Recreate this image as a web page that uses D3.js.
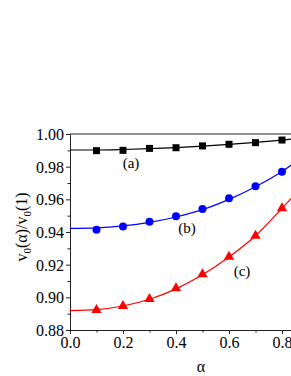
<!DOCTYPE html>
<html>
<head>
<meta charset="utf-8">
<script src="https://cdn.jsdelivr.net/npm/d3@7"></script>
<style>
  body { margin: 0; background: #fff; }
  svg { display: block; }
</style>
</head>
<body>
<svg id="chart" width="291" height="376"></svg>
<script>
// measured points
let alpha = [0.1, 0.2, 0.3, 0.4, 0.5, 0.6, 0.7, 0.8]
let seriesA = [0.9898, 0.9900, 0.9912, 0.9916, 0.9927, 0.9937, 0.9947, 0.9963]
let seriesB = [0.9414, 0.9433, 0.9463, 0.9497, 0.9541, 0.9606, 0.9680, 0.9769]
let seriesC = [0.8923, 0.8947, 0.8990, 0.9056, 0.9141, 0.9249, 0.9377, 0.9545]

// fitted curves
let fitAlpha = [0, 0.1, 0.2, 0.3, 0.4, 0.5, 0.6, 0.7, 0.8, 0.84]
let fitA = [0.9902, 0.9902, 0.9905, 0.9910, 0.9917, 0.9926, 0.9937, 0.9949, 0.9963, 0.9969]
let fitB = [0.9422, 0.9425, 0.9437, 0.9459, 0.9492, 0.9537, 0.9600, 0.9677, 0.9770, 0.9816]
let fitC = [0.8919, 0.8925, 0.8947, 0.8988, 0.9052, 0.9138, 0.9247, 0.9377, 0.9545, 0.9615]

let xTicks = [0, 0.2, 0.4, 0.6, 0.8]
let yTicks = [0.88, 0.90, 0.92, 0.94, 0.96, 0.98, 1.00]
let curveLabels = ["(a)", "(b)", "(c)"]

let serif = "'Liberation Serif', 'Times New Roman', Times, 'DejaVu Serif', serif"

let svg = d3.select("#chart")
let plotLeft = 70, plotTop = 134, plotBottom = 330

let xScale = d3.scaleLinear().domain([0, 0.84]).range([plotLeft, plotLeft + 0.84 * 265])
let yScale = d3.scaleLinear().domain([0.88, 1.00]).range([plotBottom, plotTop])

// axes
let xAxis = d3.axisBottom(xScale).tickValues(xTicks).tickFormat(d3.format(".1f")).tickSize(4).tickSizeOuter(0)
let xMinor = d3.axisBottom(xScale).tickValues([0.1, 0.3, 0.5, 0.7]).tickFormat("").tickSize(2.5).tickSizeOuter(0)
let yAxis = d3.axisLeft(yScale).tickValues(yTicks).tickFormat(d3.format(".2f")).tickSize(4).tickSizeOuter(0)
let yMinor = d3.axisLeft(yScale).tickValues([0.89, 0.91, 0.93, 0.95, 0.97, 0.99]).tickFormat("").tickSize(2.5).tickSizeOuter(0)

function styleAxis(g) {
  g.attr("font-family", serif)
  g.select(".domain").attr("stroke", "#222").attr("stroke-width", 1)
  g.selectAll(".tick line").attr("stroke", "#222")
  g.selectAll(".tick text").style("font-size", "16px").style("font-family", serif).attr("fill", "#000")
}

svg.append("g").attr("transform", `translate(0,${plotBottom})`).call(xMinor).call(styleAxis)
svg.append("g").attr("transform", `translate(0,${plotBottom})`).call(xAxis).call(styleAxis)
svg.append("g").attr("transform", `translate(${plotLeft},0)`).call(yMinor).call(styleAxis)
svg.append("g").attr("transform", `translate(${plotLeft},0)`).call(yAxis).call(styleAxis)
  .selectAll(".tick text").attr("x", -6).attr("dy", "0.35em")

// top frame line
svg.append("line")
  .attr("x1", plotLeft).attr("x2", 291)
  .attr("y1", yScale(1.00)).attr("y2", yScale(1.00))
  .attr("stroke", "#222").attr("stroke-width", 1)

let line = d3.line()
  .x((d, i) => xScale(fitAlpha[i]))
  .y(d => yScale(d))
  .curve(d3.curveMonotoneX)

let colors = ["#000000", "#0000ff", "#ff0000"]
let fits = [fitA, fitB, fitC]
fits.forEach((f, k) => {
  svg.append("path").attr("d", line(f))
    .attr("fill", "none").attr("stroke", colors[k]).attr("stroke-width", 1.2)
})

// markers
svg.selectAll("rect.ptA").data(seriesA).enter().append("rect")
  .attr("class", "ptA")
  .attr("x", (d, i) => xScale(alpha[i]) - 3.5)
  .attr("y", d => yScale(d) - 3.5)
  .attr("width", 7).attr("height", 7)
  .attr("fill", "#000")

svg.selectAll("circle.ptB").data(seriesB).enter().append("circle")
  .attr("class", "ptB")
  .attr("cx", (d, i) => xScale(alpha[i]))
  .attr("cy", d => yScale(d))
  .attr("r", 4)
  .attr("fill", "#0000ff")

let tri = d3.symbol().type(d3.symbolTriangle).size(46)
svg.selectAll("path.ptC").data(seriesC).enter().append("path")
  .attr("class", "ptC")
  .attr("d", tri)
  .attr("transform", (d, i) => `translate(${xScale(alpha[i])},${yScale(d)})`)
  .attr("fill", "#ff0000")

// curve labels
let labelPos = [[131, 168], [187, 233], [242, 276]]
curveLabels.forEach((t, k) => {
  svg.append("text")
    .attr("x", labelPos[k][0]).attr("y", labelPos[k][1])
    .attr("text-anchor", "middle")
    .style("font-family", serif)
    .style("font-size", "15px")
    .text(t)
})

// axis titles
svg.append("text")
  .attr("x", 201).attr("y", 372)
  .attr("text-anchor", "middle")
  .style("font-family", serif)
  .style("font-size", "16px")
  .text("α")

let yt = svg.append("text")
  .attr("transform", "translate(27,227) rotate(-90)")
  .attr("text-anchor", "middle")
  .style("font-family", serif)
  .style("font-size", "16px")
yt.append("tspan").text("v")
yt.append("tspan").attr("dy", 4).style("font-size", "11px").text("0")
yt.append("tspan").attr("dy", -4).text("(α)/v")
yt.append("tspan").attr("dy", 4).style("font-size", "11px").text("0")
yt.append("tspan").attr("dy", -4).text("(1)")
</script>
</body>
</html>
